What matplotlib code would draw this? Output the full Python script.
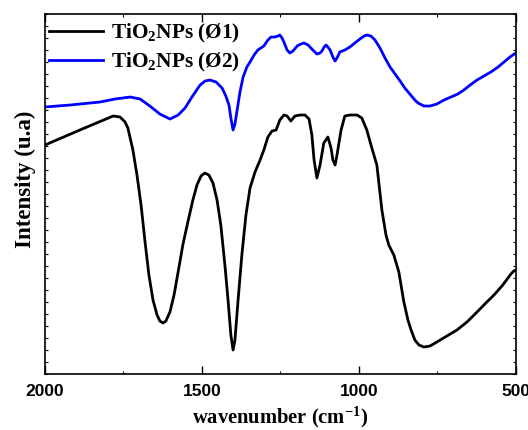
import matplotlib
matplotlib.use("Agg")
import matplotlib.pyplot as plt
from matplotlib.ticker import MultipleLocator, NullFormatter

# TiO2 NPs (Ø1) - wavenumber (cm-1) / intensity (arb. units)
wn1 = [2000, 1889, 1783, 1761, 1745, 1736, 1720, 1707, 1694, 1682, 1669, 1656, 1643, 1634, 1624,
       1615, 1602, 1589, 1576, 1561, 1545, 1529, 1516, 1503, 1491, 1478, 1465, 1452, 1440, 1427,
       1417, 1408, 1401, 1395, 1385, 1373, 1360, 1347, 1331, 1315, 1303, 1290, 1277, 1264, 1252,
       1239, 1229, 1217, 1204, 1188, 1172, 1159, 1150, 1143, 1134, 1124, 1112, 1099, 1089, 1083,
       1076, 1070, 1057, 1045, 1029, 1006, 991, 975, 959, 943, 927, 914, 905, 889, 873,
       857, 844, 834, 822, 809, 793, 774, 752, 720, 688, 656, 624, 596, 570, 542,
       516, 507, 500]
int1 = [229, 244, 258, 257, 252, 246, 224, 199, 169, 134, 99, 74, 59, 53, 51,
        53, 62, 79, 102, 129, 152, 174, 189, 198, 201, 199, 191, 174, 149, 109,
        74, 39, 24, 34, 74, 119, 159, 186, 202, 214, 224, 237, 243, 244, 254,
        259, 258, 253, 258, 259, 259, 255, 239, 214, 196, 209, 231, 237, 226, 214,
        209, 219, 244, 258, 259, 259, 256, 244, 226, 209, 164, 139, 129, 119, 102,
        72, 54, 44, 34, 29, 27, 28, 32, 38, 44, 52, 62, 71, 79, 89,
        100, 103, 104]

# TiO2 NPs (Ø2)
wn2 = [2000, 1920, 1825, 1777, 1729, 1697, 1666, 1634, 1602, 1576, 1554, 1532, 1506, 1490, 1475,
       1455, 1436, 1424, 1414, 1408, 1401, 1395, 1389, 1379, 1369, 1357, 1347, 1334, 1322, 1303,
       1290, 1280, 1268, 1258, 1252, 1245, 1239, 1229, 1220, 1210, 1197, 1185, 1175, 1162, 1150,
       1134, 1124, 1118, 1111, 1105, 1099, 1092, 1083, 1076, 1070, 1061, 1045, 1029, 1013, 997,
       984, 975, 962, 949, 933, 917, 901, 885, 869, 854, 838, 822, 812, 793, 774,
       752, 729, 707, 685, 666, 646, 624, 602, 580, 557, 538, 519, 510, 500]
int2 = [267, 269, 272, 275, 277, 275, 268, 260, 255, 259, 266, 277, 289, 293, 294,
        292, 286, 278, 269, 256, 244, 250, 262, 282, 297, 307, 312, 319, 324, 328,
        334, 337, 337, 338, 339, 336, 332, 324, 321, 323, 328, 330, 331, 329, 325,
        320, 321, 323, 327, 329, 327, 324, 317, 313, 316, 322, 324, 327, 331, 335,
        338, 339, 338, 334, 326, 316, 307, 300, 293, 286, 280, 274, 271, 268, 268,
        270, 274, 277, 280, 284, 289, 294, 298, 302, 307, 312, 317, 319, 321]

labels = ["TiO$_2$NPs (Ø1)", "TiO$_2$NPs (Ø2)"]

plt.rcParams['mathtext.fontset'] = 'custom'
plt.rcParams['mathtext.rm'] = 'Liberation Serif:bold'
plt.rcParams['mathtext.it'] = 'Liberation Serif:bold'
plt.rcParams['mathtext.bf'] = 'Liberation Serif:bold'

fig = plt.figure(figsize=(5.28, 4.30), dpi=100)
ax = fig.add_axes([0.0852, 0.1302, 0.8920, 0.8372])

ax.plot(wn1, int1, color='black', lw=2, label=labels[0])
ax.plot(wn2, int2, color='blue', lw=2, label=labels[1])

ax.set_xlim(2000, 500)
ax.set_ylim(0, 360)
ax.set_xticks([2000, 1500, 1000, 500])
ax.xaxis.set_minor_locator(MultipleLocator(250))
ax.set_yticks([])
ax.yaxis.set_minor_locator(MultipleLocator(12))
ax.yaxis.set_minor_formatter(NullFormatter())

ax.tick_params(axis='x', which='major', direction='in', length=6, width=1, top=True,
               labelsize=12.5, pad=7)
ax.tick_params(axis='x', which='minor', direction='in', length=2, width=0.8, top=True)
ax.tick_params(axis='y', which='minor', direction='in', length=2, width=0.8, right=True)
for lab in ax.get_xticklabels():
    lab.set_fontfamily('Liberation Sans')
    lab.set_fontweight('bold')
for s in ax.spines.values():
    s.set_linewidth(1.2)

ax.set_xlabel("wavenumber (cm$^{-1}$)", fontfamily='Liberation Serif', fontweight='bold',
              fontsize=14.8, labelpad=4)
ax.set_ylabel("Intensity (u.a)", fontfamily='Liberation Serif', fontweight='bold',
              fontsize=16.5)
ax.yaxis.set_label_coords(-0.02, 0.54)

leg = ax.legend(loc='upper left', bbox_to_anchor=(0.0, 0.988), frameon=False,
                handlelength=2.55, labelspacing=0.26, borderaxespad=0.1, borderpad=0.08,
                handletextpad=0.4,
                prop={'family': 'Liberation Serif', 'weight': 'bold', 'size': 15.3})

fig.savefig("out.png", dpi=100)
